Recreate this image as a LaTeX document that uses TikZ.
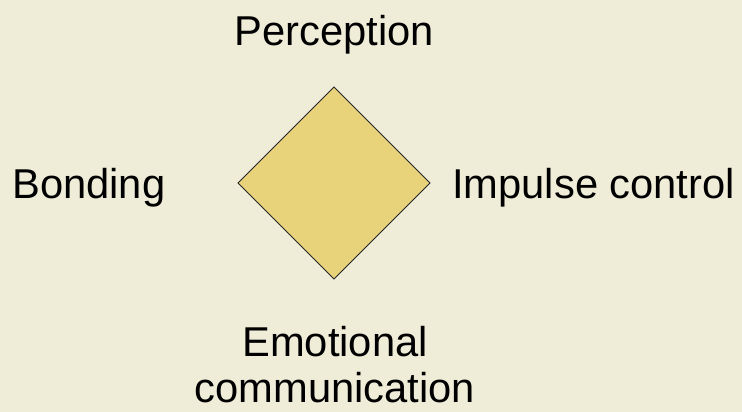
\documentclass[tikz,border=0pt]{standalone}
\usepackage{fontspec}
\setmainfont{Liberation Sans}
\usetikzlibrary{shapes.geometric}
\definecolor{bgc}{HTML}{EFECD8}
\definecolor{dfill}{HTML}{E8D37B}
\tikzset{
  lbl/.style={font=\fontsize{41.7}{46}\selectfont, inner sep=0pt, anchor=base, text=black},
  dia/.style={draw=black!85, line width=0.8pt, fill=dfill}
}
\begin{document}
\begin{tikzpicture}[x=1pt,y=-1pt]
\fill[bgc] (0,0) rectangle (742,412);
\useasboundingbox (0,0) rectangle (742,412);
\draw[dia] (334,87) coordinate (t) -- (430,183) coordinate (r) -- (334,279) coordinate (b) -- (238,183) coordinate (l) -- cycle;
\node[lbl] (perc) at (334,46) {Perception};
\node[lbl, anchor=base west] (bond) at (12,198) {Bonding};
\node[lbl, anchor=base west] (imp) at (452,198) {Impulse control};
\node[lbl] (emo) at (335,356) {Emotional};
\node[lbl] (comm) at (335,402) {communication};
\end{tikzpicture}
\end{document}
